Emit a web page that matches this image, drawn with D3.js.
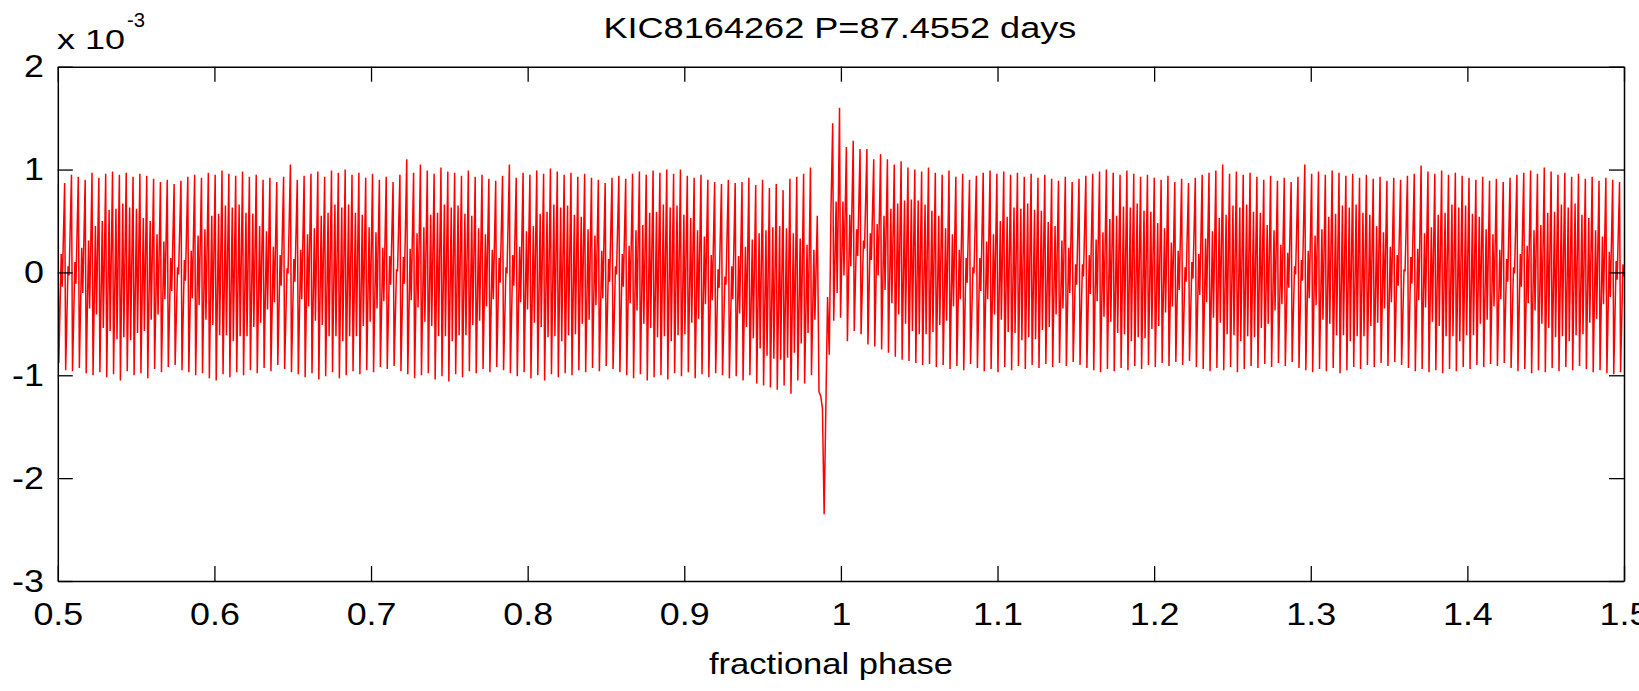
<!DOCTYPE html>
<html>
<head>
<meta charset="utf-8">
<script src="https://cdn.jsdelivr.net/npm/d3@7"></script>
<style>
  html, body { margin: 0; padding: 0; background: #fff; overflow: hidden; }
  svg { display: block; }
  text { font-family: "Liberation Sans", Arial, Helvetica, sans-serif; fill: #000; }
</style>
</head>
<body>
<svg id="chart" width="1639" height="691"></svg>
<script>
// ---- data (relative flux, units of 1e-3), read per oscillation cycle ----
const titleText = "KIC8164262 P=87.4552 days";
const xLabelText = "fractional phase";
const xTicks = [0.5, 0.6, 0.7, 0.8, 0.9, 1.0, 1.1, 1.2, 1.3, 1.4, 1.5];
const yTicks = [-3, -2, -1, 0, 1, 2];

// where, inside one pulsation cycle (in sample bins), the four samples fall
const slotBins = [0, 0.6, 2.0, 2.6];

// cycles before periastron: tall stroke top / bottom, inner stroke top / bottom
const hiPre = [.86,.87,.95,.93,.90,.97,.92,.96,.98,.95,.97,.93,.96,.94,.91,.88,
 .90,.86,.89,.93,.95,.92,.97,.95,.99,.96,.94,.98,.93,.95,.90,.92,
 .88,.93,1.05,.90,.94,.96,.98,.93,.99,.97,1.00,.95,.97,.92,.96,.90,
 .93,.88,.95,1.10,.97,1.05,.99,.96,1.02,.98,.97,.94,.99,.93,.95,.91,
 .89,.94,1.05,.92,.97,.95,.99,.96,1.01,.98,.95,.97,.93,.96,.92,.90,
 .87,.92,.94,.91,.96,.98,.95,.99,.97,1.00,.96,1.00,.94,.92,.95,.90,
 .88,.86,.90,.87,.88,.92,.85,.90,.82,.86,.80,.91,.93,.96,1.02];
const loPre = [-.88,-.95,-.96,-.93,-.98,-1.00,-.97,-1.02,-.99,-1.05,-.96,-1.00,-.98,-1.03,-.94,-.97,
 -.92,-.90,-.95,-.97,-1.00,-.98,-1.03,-1.05,-.99,-1.02,-.97,-1.00,-.95,-.98,-.93,-.96,
 -.90,-.94,-.97,-.99,-1.02,-.98,-1.04,-1.01,-.97,-1.03,-1.00,-.96,-.99,-.95,-.97,-.92,
 -.94,-.91,-.96,-.99,-1.03,-1.00,-.98,-1.04,-1.01,-1.06,-.99,-1.02,-.96,-.98,-.94,-.97,
 -.92,-.95,-.98,-1.01,-.97,-1.03,-1.00,-1.05,-.99,-1.02,-.98,-1.00,-.95,-.97,-.93,-.96,
 -.91,-.94,-.97,-1.00,-1.03,-.99,-1.05,-1.02,-1.00,-1.04,-.98,-1.01,-.97,-1.03,-.99,-1.02,
 -.98,-1.00,-1.03,-1.01,-1.05,-1.00,-1.08,-1.10,-1.12,-1.14,-1.10,-1.18,-1.05,-1.08,-1.00];
const inHiPre = [.18,.06,.10,.24,.31,.45,.50,.61,.62,.67,.63,.62,.53,.50,.37,.30,.14,.05,
 .12,.21,.36,.42,.55,.57,.65,.63,.66,.58,.57,.45,.40,.25,.17,.04,
 .13,.22,.37,.43,.55,.58,.66,.63,.66,.58,.56,.44,.39,.24,.16,.03,
 .15,.23,.38,.44,.56,.58,.66,.63,.65,.57,.55,.43,.37,.22,.14,.05,
 .17,.25,.40,.45,.57,.59,.66,.63,.65,.56,.54,.42,.36,.21,.13,.06,
 .18,.26,.41,.46,.58,.59,.66,.63,.65,.56,.53,.41,.35,
 .17,.03,-.04,.06,.16,.25,.32,.38,.41,.44,.45,.43,.38,.33,.27,.22];
const inLoPre = [-.14,-.03,-.11,-.20,-.35,-.41,-.54,-.57,-.65,-.63,-.66,-.59,-.57,-.46,-.41,-.26,-.18,-.02,
 -.08,-.25,-.32,-.46,-.51,-.61,-.61,-.67,-.62,-.62,-.53,-.49,-.36,-.29,-.13,-.01,
 -.09,-.26,-.33,-.47,-.51,-.62,-.62,-.67,-.62,-.62,-.52,-.48,-.35,-.28,-.12,.01,
 -.11,-.27,-.34,-.48,-.52,-.62,-.62,-.67,-.61,-.61,-.51,-.47,-.33,-.26,-.10,-.01,
 -.13,-.29,-.36,-.49,-.53,-.63,-.62,-.67,-.61,-.60,-.50,-.46,-.32,-.25,-.09,-.02,
 -.14,-.30,-.37,-.50,-.54,-.63,-.62,-.67,-.61,-.60,-.49,-.45,-.31,
 -.27,-.15,-.12,-.26,-.40,-.53,-.64,-.74,-.81,-.84,-.85,-.83,-.78,-.69,-.59,-.46];

// samples through the periastron (heartbeat) dip
const dip = [.55,-1.16,-1.20,-1.32,-2.35,-1.32,-.24,-.80,.60];

// cycles after periastron
const hiPost = [1.45,1.60,1.22,1.28,1.20,1.20,1.10,1.15,1.10,1.05,1.08,1.02,1.00,.98,1.02,
 .97,.95,.99,.93,.96,.90,.94,.97,.99,.96,.98,.95,.97,.93,.96,.92,
 .95,.91,.89,.93,.88,.91,.94,.96,.98,1.00,.97,.95,.99,.96,.93,.95,
 .92,.90,.94,.88,.91,.87,.92,.95,.97,.99,1.05,.96,.98,.95,.97,.93,
 .90,.94,.89,.92,.88,.93,1.05,.96,.98,.95,.99,.97,.94,.96,.92,.95,
 .91,.93,.89,.92,.90,.94,.96,1.04,.98,.96,.99,.95,.97,.94,.92,.90,
 .93,.89,.91,.88,.92,.95,.97,.99,.96,1.02,.98,.95,.97,.93,.96,.91,
 .93,.89,.92,.90,.88];
const loPost = [-.47,-.44,-.67,-.57,-.60,-.70,-.72,-.75,-.78,-.82,-.85,-.86,-.88,-.90,-.89,
 -.92,-.90,-.94,-.91,-.95,-.89,-.93,-.96,-.94,-.97,-.92,-.95,-.91,-.94,-.90,-.93,
 -.89,-.92,-.88,-.91,-.87,-.90,-.93,-.95,-.97,-.94,-.96,-.93,-.95,-.91,-.94,-.90,
 -.92,-.88,-.91,-.87,-.90,-.86,-.92,-.94,-.96,-.93,-.95,-.92,-.97,-.94,-.91,-.93,
 -.89,-.92,-.88,-.91,-.87,-.93,-.95,-.97,-.94,-.96,-.93,-.98,-.95,-.92,-.94,-.90,
 -.92,-.88,-.91,-.87,-.90,-.93,-.96,-.94,-.97,-.95,-.98,-.94,-.96,-.92,-.94,-.90,
 -.92,-.89,-.91,-.88,-.93,-.96,-.94,-.98,-.95,-.97,-.93,-.96,-.92,-.95,-.91,-.94,
 -.97,-.95,-.98,-.99,-.97];
const inHiPost = [.69,.69,.56,.42,.31,.38,.47,.55,.62,.67,.70,.71,.70,.66,.60,
 .55,.43,.37,.22,.14,.05,.14,.30,.37,.50,.54,.63,.62,.67,.61,.60,
 .49,.45,.31,.24,.08,.08,.17,.32,.39,.52,.55,.64,.63,.67,.60,.59,
 .48,.43,.29,.21,.05,.10,.18,.33,.40,.53,.56,.65,.63,.66,.59,.58,
 .46,.41,.27,.19,.06,.12,.21,.36,.42,.54,.57,.65,.63,.66,.58,.56,
 .45,.39,.25,.17,.03,.15,.23,.38,.44,.56,.58,.66,.63,.65,.57,.54,
 .42,.37,.22,.13,.05,.18,.26,.41,.46,.58,.59,.66,.63,.67,.56,.53,
 .41,.35,.20,.11,.08];
const inLoPost = [-.20,-.03,.06,.16,.23,.12,-.03,-.17,-.30,-.41,-.50,-.57,-.60,-.60,-.58,
 -.51,-.47,-.33,-.26,-.10,-.01,-.18,-.26,-.41,-.46,-.58,-.59,-.66,-.63,-.65,-.56,
 -.53,-.41,-.35,-.20,-.12,-.04,-.21,-.28,-.43,-.48,-.59,-.60,-.67,-.63,-.64,-.55,
 -.52,-.39,-.33,-.17,-.09,-.06,-.22,-.29,-.44,-.49,-.60,-.61,-.67,-.62,-.63,-.54,
 -.50,-.37,-.31,-.15,-.02,-.08,-.25,-.32,-.46,-.50,-.61,-.61,-.67,-.62,-.62,-.52,
 -.49,-.35,-.29,-.13,.01,-.11,-.27,-.34,-.48,-.52,-.62,-.62,-.67,-.61,-.61,-.50,
 -.46,-.33,-.26,-.09,-.01,-.14,-.30,-.37,-.50,-.54,-.63,-.62,-.67,-.61,-.60,-.49,
 -.45,-.31,-.24,-.07,-.04];

// ---- assemble the sampled series in phase order ----
const samples = [];   // {bin, value}
let bin = 0;
for (let k = 0; k < hiPre.length; k++) {
  [hiPre[k], loPre[k], inHiPre[k], inLoPre[k]].forEach((v, s) => samples.push({ bin: bin + slotBins[s], value: v }));
  bin += 4;
}
dip.forEach(v => { samples.push({ bin: bin, value: v }); bin += 1; });
for (let m = 0; m < hiPost.length; m++) {
  [hiPost[m], loPost[m], inHiPost[m], inLoPost[m]].forEach((v, s) => samples.push({ bin: bin + slotBins[s], value: v }));
  bin += 4;
}
const lastBin = samples[samples.length - 1].bin;
const series = samples.map(d => ({ phase: 0.5 + d.bin / lastBin, value: d.value }));

// ---- layout ----
const W = 1639, H = 691;
const plot = { left: 57.8, right: 1624, top: 66.7, bottom: 581 };
const svg = d3.select("#chart");
svg.append("rect").attr("width", W).attr("height", H).attr("fill", "#fff");

const x = d3.scaleLinear().domain([0.5, 1.5]).range([plot.left, plot.right]);
const y = d3.scaleLinear().domain([-3, 2]).range([plot.bottom, plot.top]);

svg.append("clipPath").attr("id", "clip").append("rect")
  .attr("x", plot.left).attr("y", plot.top)
  .attr("width", plot.right - plot.left).attr("height", plot.bottom - plot.top);

// data line
const line = d3.line().x(d => x(d.phase)).y(d => y(d.value));
svg.append("path")
  .datum(series)
  .attr("clip-path", "url(#clip)")
  .attr("fill", "none")
  .attr("stroke", "#ff0000")
  .attr("stroke-width", 1.5)
  .attr("stroke-linejoin", "miter")
  .attr("stroke-miterlimit", 2)
  .attr("d", line);

// axes (ticks pointing inward on all four sides)
const TICK = 15;
const fmtX = d => String(+d.toFixed(1));
const fmtY = d => String(d);
const axFont = 32;

const gB = svg.append("g").attr("transform", `translate(0,${plot.bottom})`)
  .call(d3.axisBottom(x).tickValues(xTicks).tickFormat(fmtX).tickSize(-TICK).tickSizeOuter(0).tickPadding(21));
const gT = svg.append("g").attr("transform", `translate(0,${plot.top})`)
  .call(d3.axisTop(x).tickValues(xTicks).tickFormat("").tickSize(-TICK).tickSizeOuter(0));
const gL = svg.append("g").attr("transform", `translate(${plot.left},0)`)
  .call(d3.axisLeft(y).tickValues(yTicks).tickFormat(fmtY).tickSize(-TICK).tickSizeOuter(0).tickPadding(14));
const gR = svg.append("g").attr("transform", `translate(${plot.right},0)`)
  .call(d3.axisRight(y).tickValues(yTicks).tickFormat("").tickSize(-TICK).tickSizeOuter(0));

[gB, gT, gL, gR].forEach(g => {
  g.attr("color", "#000");
  g.selectAll("path.domain").attr("stroke-width", 1.5);
  g.selectAll(".tick line").attr("stroke-width", 1.3);
  g.selectAll("text").attr("font-size", axFont).attr("font-family", null);
});

// widen glyphs slightly to match the reference's wide Helvetica rendering
function widen(sel, f) {
  sel.each(function () {
    const len = this.getComputedTextLength();
    d3.select(this).attr("textLength", len * f).attr("lengthAdjust", "spacingAndGlyphs");
  });
}
widen(gB.selectAll("text"), 1.12);
widen(gL.selectAll("text"), 1.12);

// title
svg.append("text")
  .attr("x", (plot.left + plot.right) / 2 - 1)
  .attr("y", 38)
  .attr("text-anchor", "middle")
  .attr("font-size", 30)
  .attr("textLength", 473).attr("lengthAdjust", "spacingAndGlyphs")
  .text(titleText);

// x label
svg.append("text")
  .attr("x", 831)
  .attr("y", 674)
  .attr("text-anchor", "middle")
  .attr("font-size", 30)
  .attr("textLength", 244).attr("lengthAdjust", "spacingAndGlyphs")
  .text(xLabelText);

// exponent label  "x 10^-3"
svg.append("text")
  .attr("x", 57).attr("y", 48.5)
  .attr("font-size", 28)
  .attr("textLength", 68).attr("lengthAdjust", "spacingAndGlyphs")
  .text("x 10");
svg.append("text")
  .attr("x", 127).attr("y", 27)
  .attr("font-size", 20)
  .attr("textLength", 18).attr("lengthAdjust", "spacingAndGlyphs")
  .text("-3");
</script>
</body>
</html>
